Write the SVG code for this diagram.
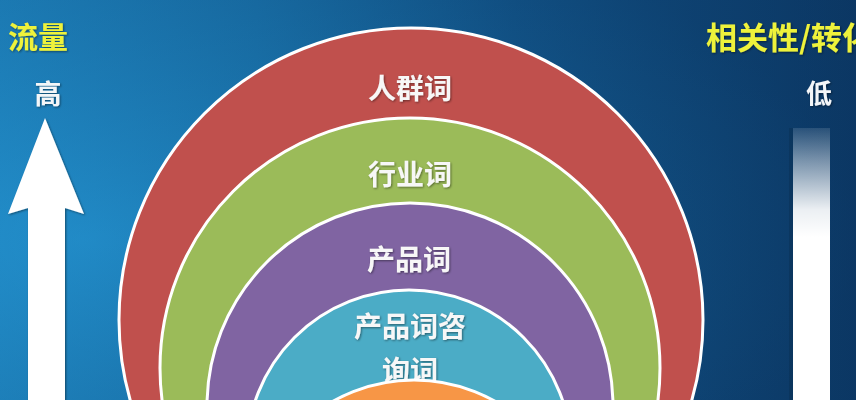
<svg xmlns="http://www.w3.org/2000/svg" width="856" height="400" viewBox="0 0 856 400">
  <defs>
    <linearGradient id="bg" x1="0" y1="0" x2="1" y2="0">
      <stop offset="0" stop-color="#1e89c6"/>
      <stop offset="0.3" stop-color="#1873ad"/>
      <stop offset="0.6" stop-color="#11548a"/>
      <stop offset="1" stop-color="#0c3a68"/>
    </linearGradient>
    <radialGradient id="vig" cx="0.1" cy="0.6" r="0.9">
      <stop offset="0" stop-color="#2a9ad6" stop-opacity="0.35"/>
      <stop offset="1" stop-color="#0a2f57" stop-opacity="0.25"/>
    </radialGradient>
    <linearGradient id="bar" x1="0" y1="0" x2="0" y2="1">
      <stop offset="0" stop-color="#ffffff" stop-opacity="0.12"/>
      <stop offset="0.12" stop-color="#ffffff" stop-opacity="0.45"/>
      <stop offset="0.3" stop-color="#ffffff" stop-opacity="0.92"/>
      <stop offset="0.4" stop-color="#ffffff" stop-opacity="1"/>
      <stop offset="1" stop-color="#ffffff" stop-opacity="1"/>
    </linearGradient>
    <filter id="ts" x="-20%" y="-20%" width="140%" height="140%">
      <feDropShadow dx="1" dy="1" stdDeviation="0.8" flood-color="#000000" flood-opacity="0.45"/>
    </filter>
  </defs>
  <style>
    .ring { stroke: #ffffff; stroke-width: 3; }
    .lbl { font-family: "Noto Sans CJK SC", "Noto Sans", sans-serif; font-weight: 700; font-size: 28px; fill: #f7f7f7; text-anchor: middle; filter: url(#ts); }
    .axis { font-family: "Noto Sans CJK SC", "Noto Sans", sans-serif; font-weight: 700; fill: #eef23a; filter: url(#ts); }
    .tick { font-family: "Noto Sans CJK SC", "Noto Sans", sans-serif; font-weight: 700; fill: #f4f6f8; text-anchor: middle; filter: url(#ts); }
  </style>

  <rect x="0" y="0" width="856" height="400" fill="url(#bg)"/>
  <rect x="0" y="0" width="856" height="400" fill="url(#vig)"/>

  <g id="left-axis">
    <text class="axis" x="8" y="48" font-size="30">流量</text>
    <text class="tick" x="48" y="104" font-size="27">高</text>
    <path d="M45,118 L84,214 L65,208 L65,400 L28,400 L28,208 L8,214 Z" fill="#ffffff" filter="url(#ts)"/>
  </g>

  <g id="right-axis">
    <text class="axis" x="706" y="49" font-size="31">相关性/转化</text>
    <text class="tick" x="819" y="103" font-size="26">低</text>
    <rect x="789" y="128" width="4" height="272" fill="#0a2a4a" opacity="0.35"/>
    <rect x="793" y="128" width="37" height="272" fill="url(#bar)"/>
  </g>

  <g id="node-renqun">
    <circle class="ring" cx="411" cy="320" r="292" fill="#c0504d"/>
    <text class="lbl" x="410" y="99">人群词</text>
  </g>
  <g id="node-hangye">
    <circle class="ring" cx="410" cy="368" r="250" fill="#9bbb59"/>
    <text class="lbl" x="410" y="185">行业词</text>
  </g>
  <g id="node-chanpin">
    <circle class="ring" cx="410" cy="406" r="203" fill="#8064a2"/>
    <text class="lbl" x="409" y="270">产品词</text>
  </g>
  <g id="node-zixun">
    <circle class="ring" cx="409" cy="452" r="162" fill="#4bacc6"/>
    <text class="lbl" x="410" y="337">产品词咨</text>
    <text class="lbl" x="410" y="381">询词</text>
  </g>
  <g id="node-core">
    <circle class="ring" cx="414" cy="545" r="165" fill="#f79646"/>
  </g>
  <g id="connectors"></g>
</svg>
